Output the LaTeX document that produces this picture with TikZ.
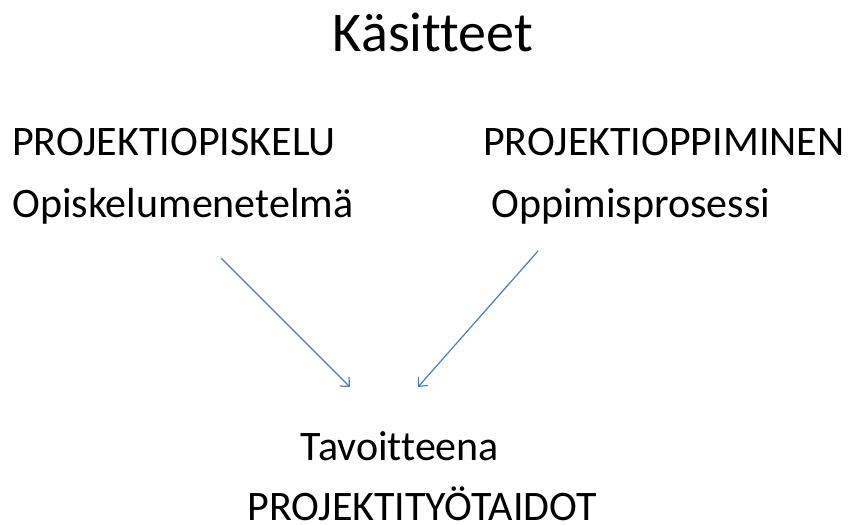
\documentclass[tikz,border=0pt]{standalone}
\usepackage{fontspec}
\setmainfont[Ligatures=NoCommon]{Carlito}
\usetikzlibrary{arrows.meta}
\definecolor{arrowblue}{HTML}{4A7EBB}
\tikzset{
  title/.style={anchor=base, inner sep=0pt, font=\fontsize{56}{60}\selectfont},
  txt/.style={anchor=base west, inner sep=0pt, text depth=0pt, font=\fontsize{42}{48}\selectfont},
  ctxt/.style={anchor=base, inner sep=0pt, text depth=0pt, font=\fontsize{42}{48}\selectfont},
  conn/.style={arrowblue, line width=1.2pt, -{Straight Barb[length=7pt,width=13pt]}}
}
\begin{document}
\begin{tikzpicture}[x=1pt,y=-1pt]
\useasboundingbox (0,0) rectangle (850,524);
\node[title] (t) at (433,52) {Käsitteet};
\node[txt] (a1) at (12,155) {PROJEKTIOPISKELU};
\node[txt] (a2) at (12,217) {Opiskelumenetelmä};
\node[txt] (b1) at (483,155) {PROJEKTIOPPIMINEN};
\node[txt] (b2) at (491,217) {Oppimisprosessi};
\node[ctxt] (c1) at (400,460) {Tavoitteena};
\node[ctxt] (c2) at (422,520) {PROJEKTITYÖTAIDOT};
\coordinate (s1) at (221,258);
\coordinate (e1) at (350,387);
\coordinate (s2) at (538,251);
\coordinate (e2) at (418,387);
\draw[conn] (s1) -- (e1);
\draw[conn] (s2) -- (e2);
\end{tikzpicture}
\end{document}
